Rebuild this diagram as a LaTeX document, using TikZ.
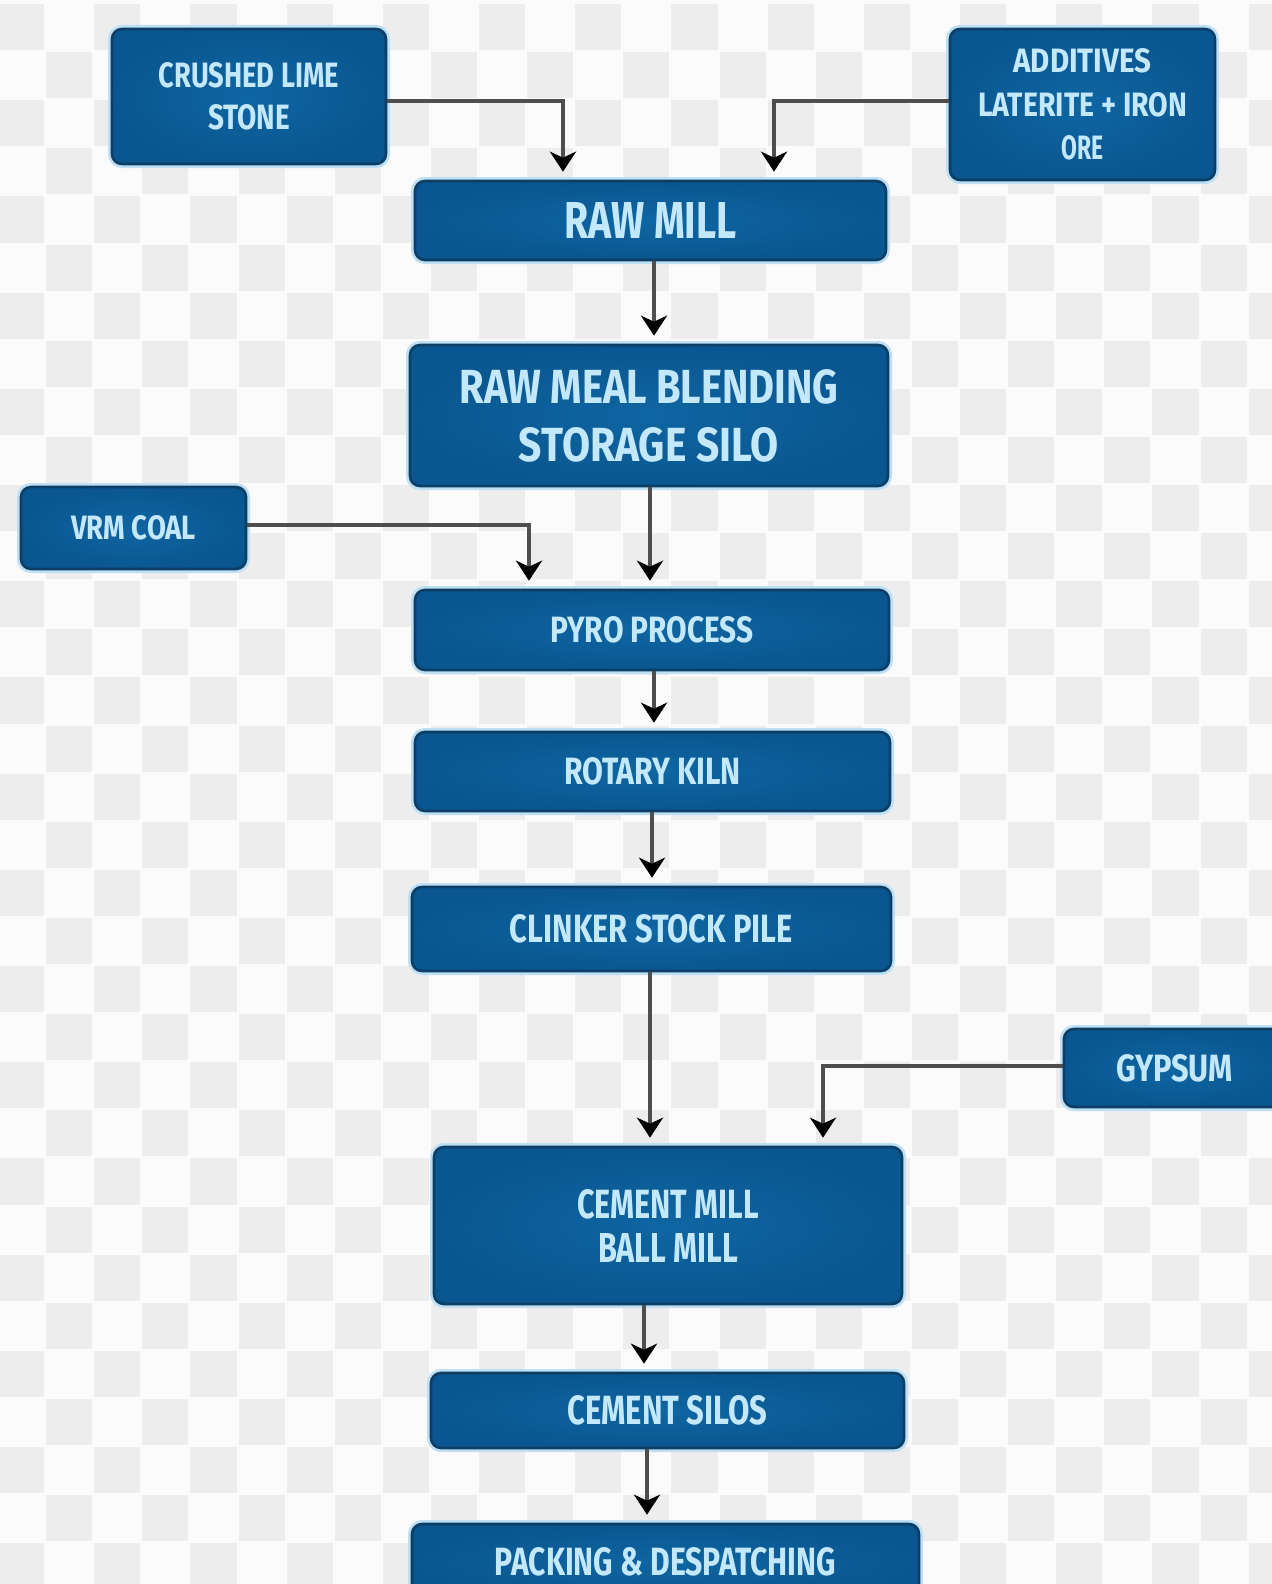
\documentclass[tikz,border=0pt]{standalone}
\usepackage{fontspec}
\usepackage{graphicx}
\newfontfamily\boxfont{Fira Sans}
\usetikzlibrary{arrows.meta,calc}
\definecolor{bgwhite}{RGB}{251,251,251}
\definecolor{bggrey}{RGB}{237,237,237}
\definecolor{boxin}{RGB}{14,102,162}
\definecolor{boxout}{RGB}{10,86,144}
\definecolor{boxedge}{RGB}{12,62,102}
\definecolor{glow}{RGB}{190,224,244}
\definecolor{txtblue}{RGB}{196,232,251}
\definecolor{linegrey}{RGB}{78,78,78}
\newcommand\fit[3]{\resizebox{#1pt}{#2pt}{#3}}
\begin{document}
\begin{tikzpicture}[x=0.5pt,y=-0.5pt,
  box/.style={rectangle, rounded corners=5pt, draw=boxedge, line width=1.3pt,
    inner color=boxin, outer color=boxout,
    preaction={draw=glow, line width=4pt},
    text=txtblue, align=center, inner sep=0pt,
    font=\boxfont\bfseries},
  conn/.style={draw=linegrey, line width=2.4pt,
    -{Stealth[length=10pt,width=13pt,inset=3pt,color=black]}, shorten >=4pt},
]
\useasboundingbox (0,0) rectangle (1272,1584);
\clip (0,0) rectangle (1272,1584);
% checkerboard background
\fill[bgwhite] (0,0) rectangle (1272,1584);
\foreach \r in {0,...,33}{
  \foreach \c in {0,...,26}{
    \pgfmathtruncatemacro\pp{mod(\r+\c,2)}
    \ifnum\pp=0
      \fill[bggrey] ({-3+\c*48.1+1},{3+\r*48.1+1}) rectangle ++(46.1,46.1);
    \fi
  }
}
% boxes
\node[box, minimum width=137pt, minimum height=67.5pt,
  font={\boxfont\bfseries\fontsize{10}{21}\selectfont}] (crushed) at (249,96.5)
  {\fit{90}{12.5}{CRUSHED LIME}\\\fit{41}{12.5}{STONE}};
\node[box, minimum width=132.5pt, minimum height=75.5pt,
  font={\boxfont\bfseries\fontsize{10}{21.75}\selectfont}] (additives) at (1082.5,104.5)
  {\fit{69}{12}{ADDITIVES}\\\fit{104.5}{12}{LATERITE + IRON}\\\fit{21}{12}{ORE}};
\node[box, minimum width=235.5pt, minimum height=39.5pt] (rawmill) at (650.5,220.5)
  {\fit{86}{18}{RAW MILL}};
\node[box, minimum width=239pt, minimum height=70.5pt,
  font={\boxfont\bfseries\fontsize{10}{29}\selectfont}] (rawmeal) at (649,415.5)
  {\fit{189.5}{17}{RAW MEAL BLENDING}\\\fit{130}{17}{STORAGE SILO}};
\node[box, minimum width=112.5pt, minimum height=41pt] (vrm) at (133.5,528)
  {\fit{62.5}{12}{VRM COAL}};
\node[box, minimum width=237pt, minimum height=40pt] (pyro) at (652,630)
  {\fit{101.5}{13}{PYRO PROCESS}};
\node[box, minimum width=237.5pt, minimum height=39.5pt] (rotary) at (652.5,771.5)
  {\fit{88.5}{13.5}{ROTARY KILN}};
\node[box, minimum width=239.5pt, minimum height=42pt] (clinker) at (651.5,929)
  {\fit{141.5}{14}{CLINKER STOCK PILE}};
\node[box, minimum width=110.5pt, minimum height=39pt] (gypsum) at (1174.5,1068)
  {\fit{58.5}{13.5}{GYPSUM}};
\node[box, minimum width=234pt, minimum height=78.5pt,
  font={\boxfont\bfseries\fontsize{10}{22}\selectfont}] (cementmill) at (668,1225.5)
  {\fit{91}{14.5}{CEMENT MILL}\\\fit{70}{14.5}{BALL MILL}};
\node[box, minimum width=236.5pt, minimum height=37.5pt] (silos) at (667.5,1410.5)
  {\fit{100}{14.5}{CEMENT SILOS}};
\node[box, minimum width=253.5pt, minimum height=38pt] (packing) at (665.5,1562)
  {\fit{170.5}{14}{PACKING \& DESPATCHING}};
% connectors
\draw[conn] ($(crushed.east)+(0,4.5)$) -| ($(rawmill.north)+(-87.5,0)$);
\draw[conn] ($(additives.west)+(0,-3.5)$) -| ($(rawmill.north)+(123.5,0)$);
\draw[conn] ($(rawmill.south)+(3.5,0)$) -- ($(rawmeal.north)+(5,0)$);
\draw[conn] ($(rawmeal.south)+(1,0)$) -- ($(pyro.north)+(-2,0)$);
\draw[conn] ($(vrm.east)+(0,-3)$) -| ($(pyro.north)+(-123,0)$);
\draw[conn] ($(pyro.south)+(2,0)$) -- ($(rotary.north)+(1.5,0)$);
\draw[conn] ($(rotary.south)+(-0.5,0)$) -- ($(clinker.north)+(0.5,0)$);
\draw[conn] ($(clinker.south)+(-1.5,0)$) -- ($(cementmill.north)+(-18,0)$);
\draw[conn] ($(gypsum.west)+(0,-2)$) -| ($(cementmill.north)+(155,0)$);
\draw[conn] ($(cementmill.south)+(-24,0)$) -- ($(silos.north)+(-23.5,0)$);
\draw[conn] ($(silos.south)+(-20.5,0)$) -- ($(packing.north)+(-18.5,0)$);
\end{tikzpicture}
\end{document}
